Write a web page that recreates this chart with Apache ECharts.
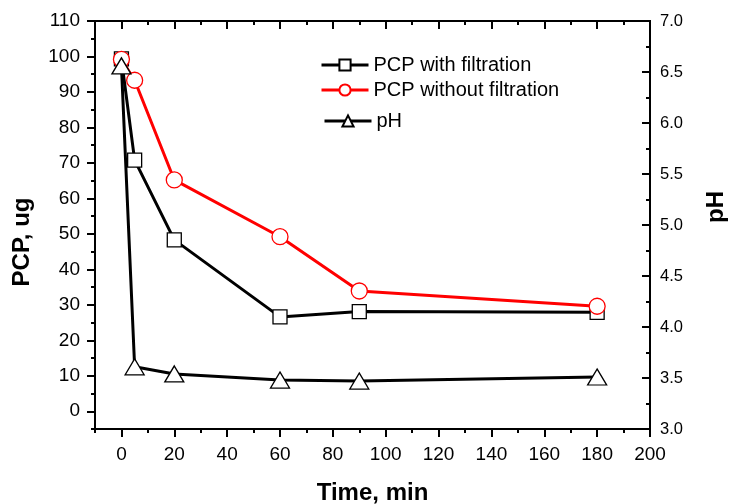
<!DOCTYPE html>
<html>
<head>
<meta charset="utf-8">
<script src="https://cdn.jsdelivr.net/npm/echarts@6/dist/echarts.min.js"></script>
<style>
html,body{margin:0;padding:0;background:#fff;}
#chart{width:731px;height:504px;}
</style>
</head>
<body>
<div id="chart"></div>
<script>
// ---- data ----
var time = [0, 5, 20, 60, 90, 180];
var pcpWith = [99.3, 70.8, 48.3, 26.6, 28.1, 27.9];
var pcpWithout = [99.2, 93.3, 65.2, 49.2, 33.9, 29.6];
var ph = [6.56, 3.61, 3.54, 3.48, 3.47, 3.51];

var xMajor = [0, 20, 40, 60, 80, 100, 120, 140, 160, 180, 200];
var xMinor = [-10, 10, 30, 50, 70, 90, 110, 130, 150, 170, 190];
var yLeftMajor = [0, 10, 20, 30, 40, 50, 60, 70, 80, 90, 100, 110];
var yLeftMinor = [-5, 5, 15, 25, 35, 45, 55, 65, 75, 85, 95, 105];
var yRightMajor = [3.0, 3.5, 4.0, 4.5, 5.0, 5.5, 6.0, 6.5, 7.0];
var yRightMinor = [3.25, 3.75, 4.25, 4.75, 5.25, 5.75, 6.25, 6.75];

var names = ['PCP with filtration', 'PCP without filtration', 'pH'];

function pairs(xs, ys) { return xs.map(function (x, i) { return [x, ys[i]]; }); }

var FONT = 'Liberation Sans, Arial, sans-serif';
var axisLineStyle = { color: '#000', width: 2 };

function xAx(pos, ticks, len, inside, labels, extra) {
  var a = {
    type: 'value', position: pos, min: -10, max: 200,
    axisLine: { show: true, onZero: false, lineStyle: axisLineStyle },
    axisTick: { show: true, inside: inside, length: len, customValues: ticks, lineStyle: { color: '#000', width: 2 } },
    axisLabel: labels ? { show: true, customValues: ticks, fontSize: 19, color: '#000', fontFamily: FONT, margin: 16 } : { show: false },
    splitLine: { show: false }
  };
  return Object.assign(a, extra || {});
}
function yAx(pos, min, max, ticks, len, inside, labels, extra) {
  var a = {
    type: 'value', position: pos, min: min, max: max,
    axisLine: { show: true, onZero: false, lineStyle: axisLineStyle },
    axisTick: { show: true, inside: inside, length: len, customValues: ticks, lineStyle: { color: '#000', width: 2 } },
    axisLabel: labels ? Object.assign({ show: true, customValues: ticks, fontSize: 19, color: '#000', fontFamily: FONT }, labels) : { show: false },
    splitLine: { show: false }
  };
  return Object.assign(a, extra || {});
}

function nameStyle(pad) {
  return { fontSize: 24, fontWeight: 'bold', color: '#000', fontFamily: FONT, padding: pad };
}
var legendText = { fontSize: 20, color: '#000', fontFamily: FONT };
var legendLine = { width: 3 };

var option = {
  backgroundColor: '#fff',
  animation: false,
  grid: { left: 95, right: 81, top: 21, bottom: 75, containLabel: false, outerBoundsMode: 'none' },
  xAxis: [
    xAx('bottom', xMajor, 8, false, true, { name: 'Time, min', nameLocation: 'middle', nameGap: 52, nameTextStyle: nameStyle(0) }),
    xAx('bottom', xMinor, 4, false, false),
    xAx('top', xMajor, 8, true, false),
    xAx('top', xMinor, 4, true, false)
  ],
  yAxis: [
    yAx('left', -5, 110, yLeftMajor, 8, false, { margin: 15 }, { name: 'PCP, ug', nameLocation: 'middle', nameGap: 61, nameRotate: 90, nameTextStyle: nameStyle([0, 34, 0, 0]) }),
    yAx('left', -5, 110, yLeftMinor, 4, false, null),
    yAx('right', 3, 7, yRightMajor, 8, true, { margin: 10, fontSize: 16.5, formatter: function (v) { return v.toFixed(1); } }, { name: 'pH', nameLocation: 'middle', nameGap: 54, nameRotate: 90, nameTextStyle: nameStyle([0, 0, 0, 36]) }),
    yAx('right', 3, 7, yRightMinor, 4, true, null)
  ],
  legend: [
    { data: [names[0]], left: 315, top: 50, itemWidth: 47, itemHeight: 14, itemGap: 0, textStyle: legendText, lineStyle: legendLine },
    { data: [names[1]], left: 315, top: 75, itemWidth: 47, itemHeight: 14, itemGap: 0, textStyle: legendText, lineStyle: legendLine },
    { data: [names[2]], left: 318, top: 106, itemWidth: 47, itemHeight: 14, itemGap: 0, textStyle: legendText, lineStyle: legendLine }
  ],
  series: [
    {
      name: names[0], type: 'line', xAxisIndex: 0, yAxisIndex: 0,
      data: pairs(time, pcpWith),
      symbol: 'rect', symbolSize: 14, showAllSymbol: true,
      lineStyle: { color: '#000', width: 3 },
      itemStyle: { color: '#fff', borderColor: '#000', borderWidth: 1.3 },
      z: 2
    },
    {
      name: names[1], type: 'line', xAxisIndex: 0, yAxisIndex: 0,
      data: pairs(time, pcpWithout),
      symbol: 'circle', symbolSize: 16, showAllSymbol: true,
      lineStyle: { color: '#ff0000', width: 3 },
      itemStyle: { color: '#fff', borderColor: '#ff0000', borderWidth: 1.3 },
      z: 3
    },
    {
      name: names[2], type: 'line', xAxisIndex: 0, yAxisIndex: 2,
      data: pairs(time, ph),
      symbol: 'triangle', symbolSize: [19, 16], showAllSymbol: true,
      lineStyle: { color: '#000', width: 3 },
      itemStyle: { color: '#fff', borderColor: '#000', borderWidth: 1.3 },
      z: 4
    }
  ]
};

var chart = echarts.init(document.getElementById('chart'), null, { renderer: 'canvas' });
chart.setOption(option);
</script>
</body>
</html>
